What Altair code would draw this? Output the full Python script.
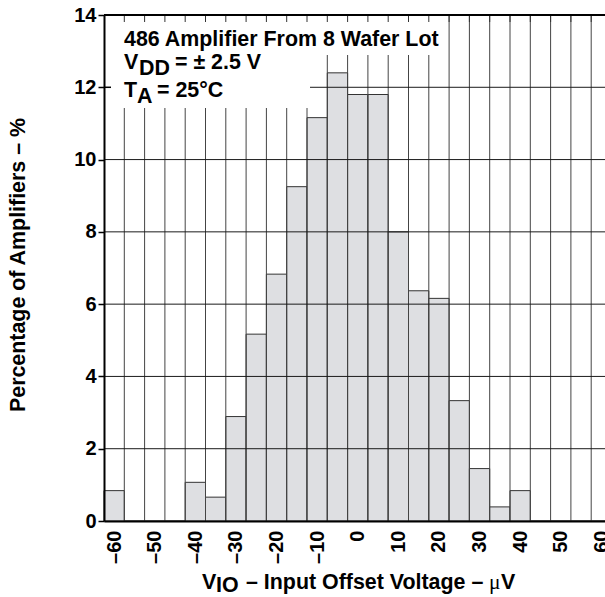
import altair as alt
import pandas as pd

# ---- data ----
bin_centers = [-60, -55, -50, -45, -40, -35, -30, -25, -20, -15, -10, -5,
               0, 5, 10, 15, 20, 25, 30, 35, 40, 45, 50, 55, 60]
percent = [0.84, 0.0, 0.0, 0.0, 1.07, 0.66, 2.89, 5.17, 6.83, 9.25, 11.16, 12.40,
           11.80, 11.80, 8.00, 6.37, 6.16, 3.33, 1.45, 0.39, 0.84, 0.0, 0.0, 0.0, 0.0]
x_tick_values = [-60, -50, -40, -30, -20, -10, 0, 10, 20, 30, 40, 50, 60]
y_tick_values = [0, 2, 4, 6, 8, 10, 12, 14]
bin_width = 5

FONT = "Liberation Sans"
W, H = 501, 506

df = pd.DataFrame({"center": bin_centers, "pct": percent})
df["lo"] = df["center"] - bin_width / 2
df["hi"] = df["center"] + bin_width / 2
edges = pd.DataFrame({"b": list(df["hi"][:-1])})
hgrid = pd.DataFrame({"t": y_tick_values[1:-1]})
one = pd.DataFrame({"a": [0]})

x_scale = alt.Scale(domain=[-62.5, -62.5 + W / (20.3 / 5)], nice=False, zero=False)
y_scale = alt.Scale(domain=[0, 14], nice=False, zero=False)

x_axis = alt.Axis(values=x_tick_values, title=None, labelAngle=270, labelFontSize=20,
                  labelFont=FONT, labelFontWeight="bold", labelColor="black",
                  ticks=False, labelPadding=9, domainColor="black", domainWidth=2,
                  grid=False, zindex=1,
                  labelExpr="datum.value < 0 ? '\u2013' + abs(datum.value) : '' + datum.value")
y_axis = alt.Axis(values=y_tick_values, title=None, labelFontSize=20, labelFont=FONT,
                  labelFontWeight="bold", labelColor="black", tickSize=6,
                  tickColor="black", tickWidth=1.5, labelPadding=2,
                  domainColor="black", domainWidth=2, grid=False, zindex=1, format="d")


def X(f):
    return alt.X(f, type="quantitative", scale=x_scale, axis=x_axis)


def Y(f):
    return alt.Y(f, type="quantitative", scale=y_scale, axis=y_axis)


bars = alt.Chart(df).mark_bar(fill="#dedfe2", stroke="#333333", strokeWidth=1).encode(
    x=X("lo"), x2="hi", y=Y("pct"), y2=alt.datum(0)
)

vgrid = alt.Chart(edges).mark_rule(color="#444444", strokeWidth=1).encode(
    x=X("b"), y=alt.value(0), y2=alt.value(H)
)
hlines = alt.Chart(hgrid).mark_rule(color="#1a1a1a", strokeWidth=1).encode(
    y=Y("t"), x=alt.value(0), x2=alt.value(W)
)

box1 = alt.Chart(one).mark_rect(fill="white").encode(
    x=alt.value(0), x2=alt.value(343), y=alt.value(0), y2=alt.value(40)
)
box2 = alt.Chart(one).mark_rect(fill="white").encode(
    x=alt.value(0), x2=alt.value(206), y=alt.value(39), y2=alt.value(93)
)
top_ticks = alt.Chart(edges).mark_rule(color="#333333", strokeWidth=1).encode(
    x=X("b"), y=alt.value(0), y2=alt.value(7)
)
left_tick = alt.Chart(pd.DataFrame({"t": [y_tick_values[6]]})).mark_rule(
    color="black", strokeWidth=1.5).encode(y=Y("t"), x=alt.value(0), x2=alt.value(7))
top_border = alt.Chart(one).mark_rule(color="black", strokeWidth=2).encode(
    x=alt.value(0), x2=alt.value(W), y=alt.value(0)
)


def txt(s, x, y, size=21.4, bold=True, font=FONT, align="left", angle=0, baseline="alphabetic"):
    kw = dict(align=align, baseline=baseline, font=font, fontSize=size,
              fontWeight="bold" if bold else "normal", color="black")
    if angle:
        kw["angle"] = angle
    return alt.Chart(one).mark_text(**kw).encode(
        x=alt.value(x), y=alt.value(y), text=alt.value(s)
    )


texts = [
    txt("486 Amplifier From 8 Wafer Lot", 20, 31),
    txt("V", 20, 54), txt("DD", 35, 60), txt("= \u00b1 2.5 V", 71, 54),
    txt("T", 20, 82), txt("A", 33, 88), txt("= 25\u00b0C", 53, 82),
    # x title
    txt("V", 98, 574), txt("IO", 112, 577),
    txt("\u2013 Input Offset Voltage \u2013", 142, 574),
    txt("\u03bc", 385, 574, bold=False, font="Liberation Serif"),
    txt("V", 397, 574),
    # y title
    txt("Percentage of Amplifiers \u2013 %", -85, 250, align="center", angle=270,
        baseline="middle"),
]

chart = alt.layer(bars, vgrid, hlines, box1, box2, top_ticks, left_tick, top_border,
                  *texts).properties(
    width=W, height=H,
    autosize=alt.AutoSizeParams(type="none"),
    padding={"left": 104, "top": 15, "right": 0, "bottom": 76},
    background="white",
).configure_view(stroke=None)

chart.save("out.html", embed_options={"renderer": "svg", "actions": False})
